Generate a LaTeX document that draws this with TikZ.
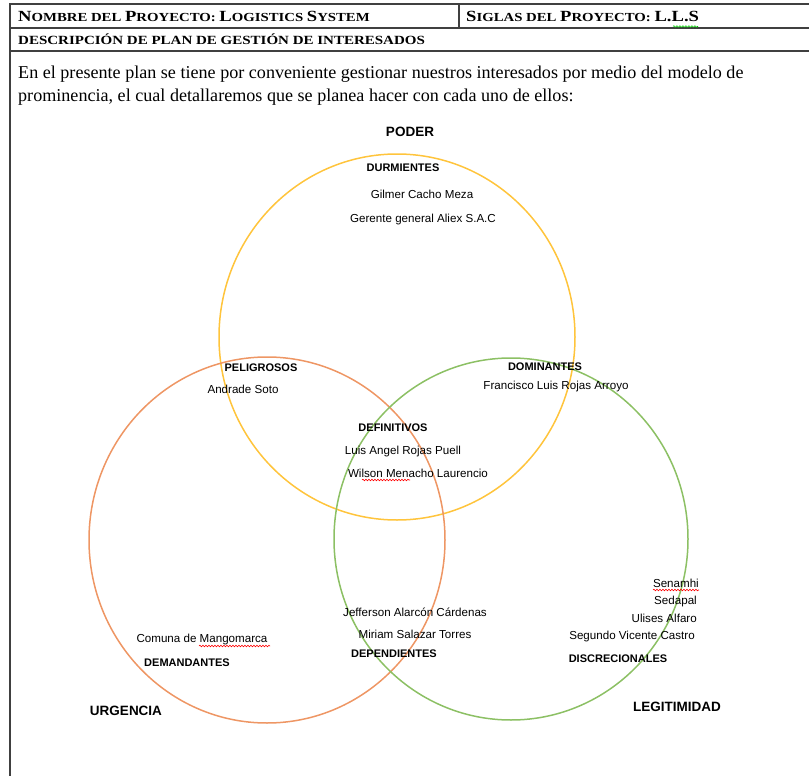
\documentclass[tikz,border=0pt]{standalone}
\usepackage{fontspec}
\setmainfont{Liberation Serif}
\newfontfamily\arialf{Liberation Sans}
\newfontfamily\hdrf[FakeStretch=1.2]{Liberation Serif}
\usetikzlibrary{decorations.pathmorphing}
\newcommand\Bc[1]{{\fontsize{15.5}{16}\selectfont #1}}
\begin{document}
\begin{tikzpicture}[x=1pt,y=-1pt,
  rule/.style={line width=1.2pt,draw=black!75},
  hdr/.style={anchor=base west,inner sep=0pt,font=\hdrf\fontsize{12.3}{13}\selectfont\bfseries},
  body/.style={anchor=base west,inner sep=0pt,font=\fontsize{18.1}{20}\selectfont},
  cat/.style={inner sep=0pt,font=\arialf\fontsize{11}{12}\selectfont\bfseries},
  axis/.style={inner sep=0pt,font=\arialf\fontsize{13.5}{14}\selectfont\bfseries},
  who/.style={inner sep=0pt,font=\arialf\fontsize{11.6}{12}\selectfont},
  ring/.style={line width=1.5pt},
  squig/.style={line width=0.6pt,decorate,decoration={snake,amplitude=0.8pt,segment length=3pt}}
]
\useasboundingbox (0,0) rectangle (809,776);
% table frame
\draw[rule] (809,4) -- (10,4) -- (10,776);
\draw[rule] (10,28) -- (809,28);
\draw[rule] (10,51) -- (809,51);
\draw[rule] (459,4) -- (459,28);
% header
\node[hdr] (nom) at (18,22) {\Bc{N}OMBRE DEL \Bc{P}ROYECTO: \Bc{L}OGISTICS \Bc{S}YSTEM};
\node[hdr] (sig) at (466,22) {\Bc{S}IGLAS DEL \Bc{P}ROYECTO: \Bc{L.L.S}};
\node[hdr,font=\hdrf\fontsize{12.5}{13}\selectfont\bfseries] (desc) at (18,45) {DESCRIPCIÓN DE PLAN DE GESTIÓN DE INTERESADOS};
\draw[squig,draw=green!80!black] (673,26.5) -- (698,26.5);
% body
\node[body] (l1) at (18,79) {En el presente plan se tiene por conveniente gestionar nuestros interesados por medio del modelo de};
\node[body] (l2) at (18,102) {prominencia, el cual detallaremos que se planea hacer con cada uno de ellos:};
% circles
\draw[ring,draw={rgb,255:red,255;green,196;blue,60}] (397,337) ellipse [x radius=178,y radius=183];
\draw[ring,draw={rgb,255:red,238;green,150;blue,100}] (267,540) ellipse [x radius=178,y radius=183];
\draw[ring,draw={rgb,255:red,140;green,192;blue,100}] (511,539) ellipse [x radius=177,y radius=181];
% axes
\node[axis] (poder) at (410,132) {PODER};
\node[axis] (urg) at (126,711) {URGENCIA};
\node[axis] (leg) at (677,707) {LEGITIMIDAD};
% categories and members
\node[cat] (durm) at (403,168) {DURMIENTES};
\node[who] (gil) at (422,194) {Gilmer Cacho Meza};
\node[who] (ger) at (423,219) {Gerente general Aliex S.A.C};
\node[cat] (pel) at (261,368) {PELIGROSOS};
\node[who] (and) at (243,389) {Andrade Soto};
\node[cat] (dom) at (545,367) {DOMINANTES};
\node[who] (fra) at (556,386) {Francisco Luis Rojas Arroyo};
\node[cat] (def) at (393,428) {DEFINITIVOS};
\node[who] (lui) at (403,451) {Luis Angel Rojas Puell};
\node[who] (wil) at (418,473) {Wilson Menacho Laurencio};
\node[who,anchor=east] (sen) at (699,583) {Senamhi};
\node[who,anchor=east] (sed) at (697,601) {Sedapal};
\node[who,anchor=east] (uli) at (697,618) {Ulises Alfaro};
\node[who,anchor=east] (seg) at (695,636) {Segundo Vicente Castro};
\node[cat] (dis) at (618,659) {DISCRECIONALES};
\node[who] (jef) at (415,612) {Jefferson Alarcón Cárdenas};
\node[who] (mir) at (415,634) {Miriam Salazar Torres};
\node[cat] (dep) at (394,654) {DEPENDIENTES};
\node[who] (com) at (202,639) {Comuna de Mangomarca};
\node[cat] (dem) at (187,663) {DEMANDANTES};
% spelling marks
\draw[squig,draw=red] (199,646) -- (270,646);
\draw[squig,draw=red] (362,480) -- (410,480);
\draw[squig,draw=red] (653,590) -- (699,590);
\end{tikzpicture}
\end{document}
